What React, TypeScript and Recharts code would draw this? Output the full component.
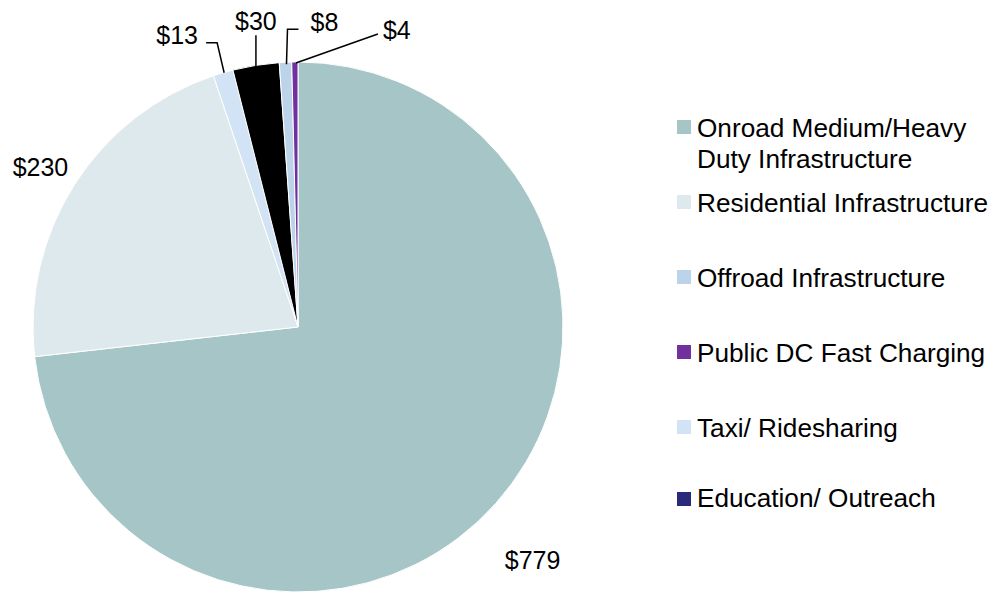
import React from 'react';
import { PieChart, Pie, Cell, Legend } from 'recharts';

// slice order, clockwise from 12 o'clock
const sliceNames = [
  'Onroad Medium/Heavy Duty Infrastructure',
  'Residential Infrastructure',
  'Taxi/ Ridesharing',
  'Other',
  'Offroad Infrastructure',
  'Public DC Fast Charging',
];
const sliceValues = [779, 230, 13, 30, 8, 4];
const sliceColors = ['#a5c5c6', '#dde9ec', '#d2e3f5', '#000000', '#bcd4ea', '#7030a0'];

// legend order as in the source
const legendNames = [
  'Onroad Medium/Heavy Duty Infrastructure',
  'Residential Infrastructure',
  'Offroad Infrastructure',
  'Public DC Fast Charging',
  'Taxi/ Ridesharing',
  'Education/ Outreach',
];
const legendColors = ['#a5c5c6', '#dde9ec', '#bcd4ea', '#7030a0', '#d2e3f5', '#2a2a7a'];

const data = sliceNames.map((name, i) => ({ name, value: sliceValues[i] }));

// label placement relative to the slice edge point (style only)
const labelStyle = [
  { dx: 37, dy: 56, line: [] as number[][] },
  { dx: -34, dy: -18, line: [] as number[][] },
  { dx: -46, dy: -38, line: [[1, 0], [-6, -30], [-17, -30]] },
  { dx: 0, dy: -44, line: [[0, 1], [0, -30]] },
  { dx: 39, dy: -40, line: [[1, 2], [2, -33], [13, -33]] },
  { dx: 102, dy: -32, line: [[1, 1], [83, -28]] },
];

const FONT = '"Liberation Sans", Arial, sans-serif';
const RAD = Math.PI / 180;

const renderLabel = (props: any) => {
  const { cx, cy, midAngle, outerRadius, value, index } = props;
  const ex = cx + outerRadius * Math.cos(-midAngle * RAD);
  const ey = cy + outerRadius * Math.sin(-midAngle * RAD);
  const s = labelStyle[index];
  return (
    <g key={`lbl-${index}`}>
      {s.line.length > 0 && (
        <polyline
          points={s.line.map((p) => `${ex + p[0]},${ey + p[1]}`).join(' ')}
          fill="none"
          stroke="#000"
          strokeWidth={1.5}
        />
      )}
      <text
        x={ex + s.dx}
        y={ey + s.dy}
        textAnchor="middle"
        dominantBaseline="central"
        fontFamily={FONT}
        fontSize={25}
        fill="#000"
      >
        ${value}
      </text>
    </g>
  );
};

const renderLegend = () => (
  <div style={{ fontFamily: FONT, fontSize: 26.2, color: '#000', width: 312 }}>
    {legendNames.map((name, i) => (
      <div key={name} style={{ position: 'relative', height: 75, paddingLeft: 20, lineHeight: '31px' }}>
        <span
          style={{
            position: 'absolute',
            left: 0,
            top: i === 5 ? 9 : 7,
            width: 14,
            height: 14,
            background: legendColors[i],
          }}
        />
        <div
          style={{
            marginTop: i === 5 ? -5 : 0,
            width: i === 0 ? 275 : undefined,
            whiteSpace: i === 0 ? 'normal' : 'nowrap',
          }}
        >
          {name}
        </div>
      </div>
    ))}
  </div>
);

export default function App() {
  return (
    <div style={{ position: 'absolute', left: 0, top: 0, background: '#fff' }}>
      <PieChart width={990} height={592} margin={{ top: 0, right: 0, bottom: 0, left: 0 }}>
        <Pie
          data={data}
          dataKey="value"
          nameKey="name"
          cx={298}
          cy={327}
          outerRadius={265}
          startAngle={90}
          endAngle={-270}
          stroke="#fff"
          strokeWidth={1}
          label={renderLabel}
          labelLine={false}
          isAnimationActive={false}
        >
          {data.map((d, i) => (
            <Cell key={d.name} fill={sliceColors[i]} />
          ))}
        </Pie>
        <Legend
          content={renderLegend}
          layout="vertical"
          wrapperStyle={{ left: 677, top: 113, width: 312 }}
        />
      </PieChart>
    </div>
  );
}
